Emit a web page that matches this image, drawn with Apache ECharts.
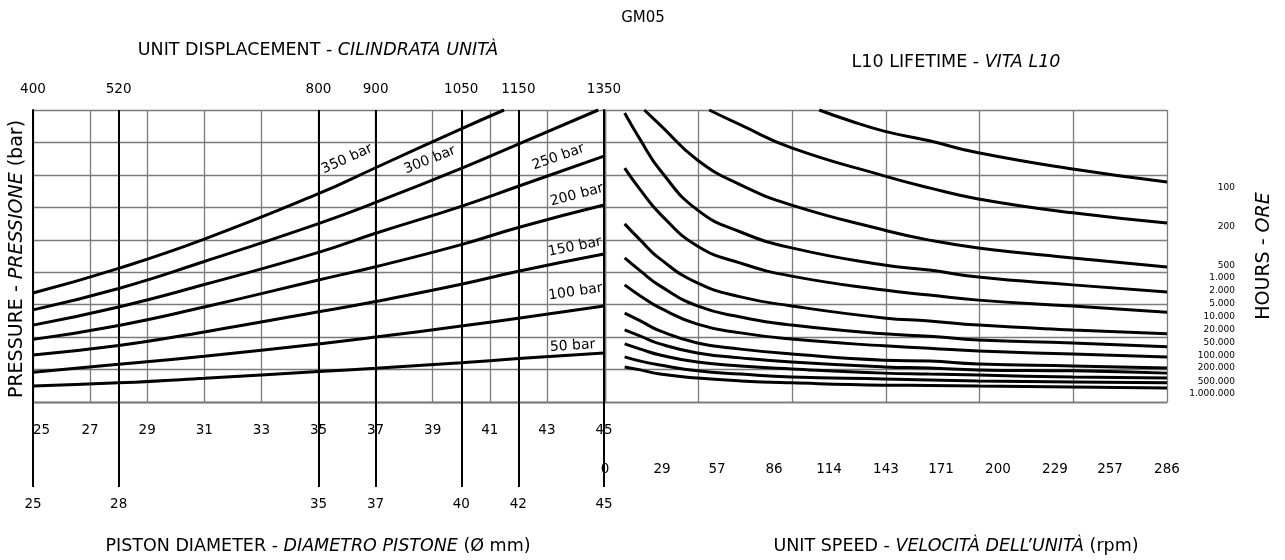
<!DOCTYPE html>
<html><head><meta charset="utf-8">
<script src="https://cdn.jsdelivr.net/npm/echarts@6/dist/echarts.min.js"></script>
<style>html,body{margin:0;padding:0;background:#fff}#c{width:1285px;height:560px}</style>
</head><body><div id="c"></div>
<script>
const FONT = "'DejaVu Sans', Verdana, sans-serif";

// ---------- LEFT PANEL: piston diameter (mm) vs load, lines of constant pressure ----------
const pistonMajor = [25, 28, 35, 37, 40, 42, 45];
const displacementLabels = ['400', '520', '800', '900', '1050', '1150', '1350'];
const pressureNames = ['350 bar', '300 bar', '250 bar', '200 bar', '150 bar', '100 bar', '50 bar'];
const bar350 = [[25,3.36],[28,4.12],[31,5.02],[35,6.42],[37,7.22],[40,8.42],[41.5,9.0]];
const bar300 = [[25,2.84],[28,3.50],[31,4.33],[35,5.50],[37,6.15],[40,7.20],[42,7.95],[44.8,9.0]];
const bar250 = [[25,2.37],[28,2.93],[31,3.62],[35,4.61],[37,5.20],[40,6.03],[42,6.65],[45,7.58]];
const bar200 = [[25,1.93],[28,2.36],[31,2.93],[35,3.76],[37,4.17],[40,4.85],[42,5.38],[45,6.07]];
const bar150 = [[25,1.45],[28,1.74],[31,2.16],[35,2.78],[37,3.10],[40,3.63],[42,4.03],[45,4.56]];
const bar100 = [[25,0.92],[28,1.16],[31,1.41],[35,1.79],[37,2.00],[40,2.34],[42,2.58],[45,2.96]];
const bar50  = [[25,0.49],[28,0.59],[31,0.73],[35,0.94],[37,1.04],[40,1.21],[42,1.34],[45,1.51]];
const pressureLines = [bar350, bar300, bar250, bar200, bar150, bar100, bar50];
// where each pressure label sits (diameter mm, load units)
const pressureLabelAt = [[36.0,7.49],[38.9,7.46],[43.4,7.55],[44.05,6.38],[43.98,4.78],[44.0,3.39],[43.9,1.73]];

// ---------- RIGHT PANEL: unit speed (rpm) vs load, L10 life curves ----------
const speedTicks = [0, 29, 57, 86, 114, 143, 171, 200, 229, 257, 286];
const hourLabels = ['100','200','500','1.000','2.000','5.000','10.000','20.000','50.000','100.000','200.000','500.000','1.000.000'];
const hourTickAt = [6.60, 5.39, 4.19, 3.82, 3.42, 3.02, 2.62, 2.22, 1.82, 1.42, 1.05, 0.62, 0.25];
const life100 = [[109,9.00],[125,8.66],[142,8.35],[165,8.05],[190,7.68],[238,7.18],[286,6.78]];
const life200 = [[53,9.00],[69,8.54],[95,7.83],[142,6.97],[165,6.60],[190,6.26],[238,5.83],[286,5.52]];
const life500 = [[20,9.00],[28,8.54],[47,7.46],[69,6.69],[95,6.07],[142,5.30],[165,4.99],[190,4.75],[238,4.44],[286,4.16]];
const speedPts = [10, 18, 28, 47, 69, 95, 142, 165, 190, 238, 286];
const life1k   = [8.91,8.08,7.15,5.92,5.24,4.75,4.22,4.07,3.85,3.61,3.39];
const life2k   = [7.21,6.54,5.80,4.81,4.28,3.88,3.45,3.30,3.14,2.96,2.77];
const life5k   = [5.49,4.99,4.41,3.67,3.24,2.96,2.59,2.50,2.37,2.22,2.10];
const life10k  = [4.44,4.04,3.58,2.96,2.62,2.37,2.10,2.03,1.91,1.82,1.70];
const life20k  = [3.61,3.27,2.90,2.40,2.13,1.94,1.73,1.66,1.57,1.48,1.39];
const life50k  = [2.74,2.50,2.19,1.82,1.63,1.48,1.29,1.26,1.17,1.11,1.05];
const life100k = [2.22,2.03,1.79,1.51,1.36,1.23,1.08,1.05,0.99,0.96,0.89];
const life200k = [1.79,1.63,1.45,1.23,1.11,1.02,0.89,0.86,0.83,0.77,0.74];
const life500k = [1.39,1.26,1.14,0.96,0.86,0.77,0.71,0.68,0.65,0.62,0.59];
const life1m   = [1.08,0.99,0.86,0.74,0.65,0.59,0.52,0.51,0.49,0.46,0.43];

const GRID_C = '#7a7a7a';
const chart = echarts.init(document.getElementById('c'), null, {renderer: 'canvas'});

const lineStyleBlack = {color: '#000', width: 3};
const series = [];
pressureLines.forEach((d, i) => series.push({
  type: 'line', name: pressureNames[i], xAxisIndex: 0, yAxisIndex: 0, data: d,
  symbol: 'none', smooth: 0.5, lineStyle: lineStyleBlack, silent: true, z: 5
}));
const lifeCurves = [life100, life200, life500].concat(
  [life1k, life2k, life5k, life10k, life20k, life50k, life100k, life200k, life500k, life1m]
    .map(arr => arr.map((v, k) => [speedPts[k], v])));
lifeCurves.forEach((d, i) => series.push({
  type: 'line', name: hourLabels[i] + ' h', xAxisIndex: 3, yAxisIndex: 2, data: d,
  symbol: 'none', smooth: 0.5, lineStyle: lineStyleBlack, silent: true, z: 5
}));

const lbl = {color: '#000', fontFamily: FONT, fontSize: 13.5};
const nearestIdx = (arr, v) => { let b = 0; arr.forEach((a, k) => { if (Math.abs(a - v) < Math.abs(arr[b] - v)) b = k; }); return b; };

const option = {
  animation: false,
  backgroundColor: '#fff',
  grid: [
    {left: 33, top: 110, width: 571, height: 292},
    {left: 605, top: 110, width: 562, height: 292}
  ],
  xAxis: [
    { // 0: piston diameter, thin grid + middle labels
      type: 'value', gridIndex: 0, min: 25, max: 45, interval: 2, position: 'bottom',
      axisLine: {show: true, lineStyle: {color: GRID_C, width: 1.3}}, axisTick: {show: false},
      splitLine: {show: true, lineStyle: {color: GRID_C, width: 1.3}},
      axisLabel: Object.assign({margin: 21, alignMinLabel: 'left'}, lbl)
    },
    { // 1: unit displacement on top
      type: 'value', gridIndex: 0, min: 25, max: 45, position: 'top',
      axisLine: {show: true, lineStyle: {color: GRID_C, width: 1.3}},
      axisTick: {show: false, customValues: pistonMajor},
      splitLine: {show: false},
      axisLabel: Object.assign({margin: 14, customValues: pistonMajor,
        formatter: v => displacementLabels[nearestIdx(pistonMajor, v)]}, lbl)
    },
    { // 2: heavy reference lines & bottom diameter labels
      type: 'value', gridIndex: 0, min: 25, max: 45, position: 'bottom', offset: 85,
      axisLine: {show: false},
      axisTick: {show: true, inside: true, length: 377, customValues: pistonMajor,
        lineStyle: {color: '#000', width: 2}},
      splitLine: {show: false},
      axisLabel: Object.assign({margin: 10, customValues: pistonMajor}, lbl)
    },
    { // 3: unit speed labels
      type: 'value', gridIndex: 1, min: 0, max: 286, position: 'bottom',
      axisLine: {show: true, lineStyle: {color: GRID_C, width: 1.3}},
      axisTick: {show: false, customValues: speedTicks},
      splitLine: {show: false},
      axisLabel: Object.assign({margin: 60, customValues: speedTicks}, lbl)
    },
    { // 4: unit speed grid lines
      type: 'value', gridIndex: 1, min: 0, max: 286, interval: 286 / 6, position: 'bottom',
      axisLine: {show: false}, axisTick: {show: false}, axisLabel: {show: false},
      splitLine: {show: true, lineStyle: {color: GRID_C, width: 1.3}}
    }
  ],
  yAxis: [
    { // 0 left panel load
      type: 'value', gridIndex: 0, min: 0, max: 9, interval: 1,
      axisLine: {show: true, lineStyle: {color: '#000', width: 2}}, axisTick: {show: false},
      axisLabel: {show: false}, splitLine: {show: true, lineStyle: {color: GRID_C, width: 1.3}}
    },
    { // 1 left panel right border
      type: 'value', gridIndex: 0, min: 0, max: 9, position: 'right',
      axisLine: {show: true, lineStyle: {color: '#000', width: 2}}, axisTick: {show: false},
      axisLabel: {show: false}, splitLine: {show: false}
    },
    { // 2 right panel load
      type: 'value', gridIndex: 1, min: 0, max: 9, interval: 1,
      axisLine: {show: true, lineStyle: {color: GRID_C, width: 1.3}}, axisTick: {show: false},
      axisLabel: {show: false}, splitLine: {show: true, lineStyle: {color: GRID_C, width: 1.3}}
    },
    { // 3 right panel hour labels
      type: 'value', gridIndex: 1, min: 0, max: 9, position: 'right',
      axisLine: {show: true, lineStyle: {color: GRID_C, width: 1.3}},
      axisTick: {show: false, customValues: hourTickAt}, splitLine: {show: false},
      axisLabel: {customValues: hourTickAt, formatter: v => hourLabels[nearestIdx(hourTickAt, v)],
        color: '#000', fontFamily: FONT, fontSize: 9, align: 'right', margin: 68}
    }
  ],
  series: series
};
chart.setOption(option);

// ---------- texts ----------
function txt(x, y, text, size, rot) {
  return {type: 'text', x: x, y: y, rotation: rot || 0, silent: true, z: 10,
    style: {text: text, fontSize: size, fontFamily: FONT, fill: '#000', align: 'center', verticalAlign: 'middle',
      rich: {
        n: {fontSize: size, fontFamily: FONT, fill: '#000'},
        i: {fontSize: size, fontFamily: FONT, fill: '#000', fontStyle: 'italic'}
      }}};
}
const graphics = [
  txt(643, 18, '{n|GM05}', 15),
  txt(318, 50, '{n|UNIT DISPLACEMENT - }{i|CILINDRATA UNITÀ}', 17.5),
  txt(956, 62, '{n|L10 LIFETIME - }{i|VITA L10}', 17.5),
  txt(318, 546, '{n|PISTON DIAMETER - }{i|DIAMETRO PISTONE}{n| (Ø mm)}', 17.5),
  txt(956, 546, '{n|UNIT SPEED - }{i|VELOCITÀ DELL’UNITÀ}{n| (rpm)}', 17.5),
  txt(17, 259, '{n|PRESSURE - }{i|PRESSIONE}{n| (bar)}', 19, Math.PI / 2),
  txt(1264, 256, '{n|HOURS - }{i|ORE}', 19, Math.PI / 2)
];
function interp(data, d) {
  for (let k = 1; k < data.length; k++) {
    if (d <= data[k][0]) {
      const a = data[k - 1], b = data[k];
      return a[1] + (b[1] - a[1]) * (d - a[0]) / (b[0] - a[0]);
    }
  }
  return data[data.length - 1][1];
}
pressureLines.forEach((data, i) => {
  const at = pressureLabelAt[i];
  const lastD = data[data.length - 1][0];
  const d1 = Math.min(at[0] - 0.8, lastD - 1.6), d2 = d1 + 1.6;
  const p1 = chart.convertToPixel({gridIndex: 0}, [d1, interp(data, d1)]);
  const p2 = chart.convertToPixel({gridIndex: 0}, [d2, interp(data, d2)]);
  const ang = Math.atan2(p1[1] - p2[1], p2[0] - p1[0]);
  const c = chart.convertToPixel({gridIndex: 0}, at);
  graphics.push(txt(c[0], c[1], '{n|' + pressureNames[i] + '}', 14, ang));
});
chart.setOption({graphic: graphics});
</script></body></html>
